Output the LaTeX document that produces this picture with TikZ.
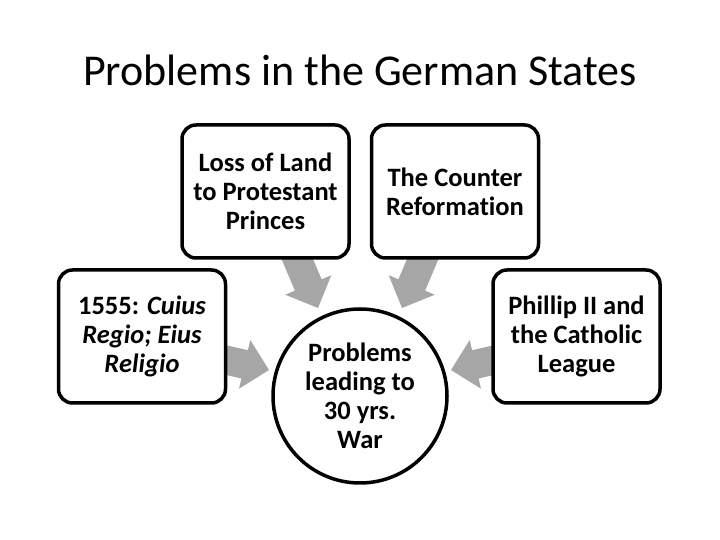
\documentclass[tikz,border=0pt]{standalone}
\usepackage{fontspec}
\setmainfont{Carlito}[Ligatures=NoCommon]
\usetikzlibrary{calc}
\definecolor{arrowgray}{HTML}{A6A6A6}
\tikzset{
  boxnode/.style={draw=black, line width=3.5pt, rounded corners=14pt, fill=white,
    minimum width=167pt, minimum height=133pt, align=center, inner sep=0pt,
    font=\bfseries\fontsize{26.5}{29}\selectfont},
  circnode/.style={circle, draw=black, line width=3.5pt, fill=white,
    minimum size=174pt, align=center, inner sep=0pt,
    font=\bfseries\fontsize{26.5}{29}\selectfont},
  titlenode/.style={font=\fontsize{44}{52}\selectfont, inner sep=0pt}
}
\newcommand{\blockarrow}[3]{%
  \coordinate (#3h) at ($(#2)!25pt!(#1)$);
  \fill[arrowgray] ($(#1)!14.5pt!90:(#2)$) -- ($(#3h)!14.5pt!-90:(#1)$)
    -- ($(#3h)!25pt!-90:(#1)$) -- (#2) -- ($(#3h)!25pt!90:(#1)$)
    -- ($(#3h)!14.5pt!90:(#1)$) -- ($(#1)!14.5pt!-90:(#2)$) -- cycle;
}
\begin{document}
\begin{tikzpicture}[x=1pt,y=1pt]
  \fill[white] (0,0) rectangle (720,540);
  \useasboundingbox (0,0) rectangle (720,540);

  \node[titlenode, anchor=base] (title) at (360,454) {Problems in the German States};

  % arrow coordinates
  \coordinate (a1s) at (293,291);
  \coordinate (a1t) at (318,232);
  \coordinate (a2s) at (427,291);
  \coordinate (a2t) at (402,232);
  \coordinate (a3s) at (215,182.5);
  \coordinate (a3t) at (269,170);
  \coordinate (a4s) at (505,182.5);
  \coordinate (a4t) at (451,170);

  \blockarrow{a1s}{a1t}{ar1}
  \blockarrow{a2s}{a2t}{ar2}
  \blockarrow{a3s}{a3t}{ar3}
  \blockarrow{a4s}{a4t}{ar4}

  \node[boxnode] (loss) at (265.5,348.5) {Loss of Land\\to Protestant\\Princes};
  \node[boxnode] (counter) at (455,348.5) {The Counter\\Reformation};
  \node[boxnode] (peace) at (142,203.5) {1555: \textit{Cuius}\\\textit{Regio; Eius}\\\textit{Religio}};
  \node[boxnode] (phillip) at (576.5,203.5) {Phillip II and\\the Catholic\\League};
  \node[circnode] (center) at (360,144) {Problems\\leading to\\30 yrs.\\War};
\end{tikzpicture}
\end{document}
